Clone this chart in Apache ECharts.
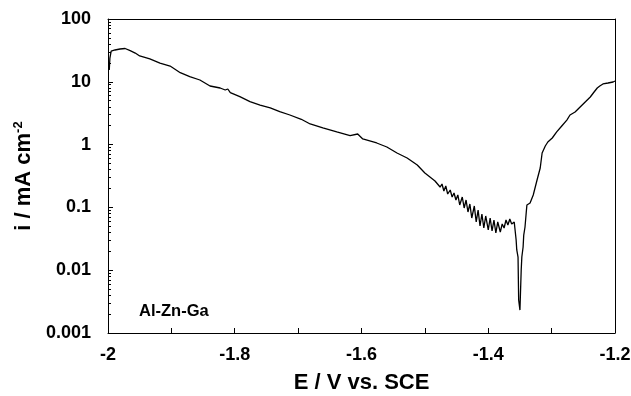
<!DOCTYPE html>
<html>
<head>
<meta charset="utf-8">
<script src="https://cdn.jsdelivr.net/npm/echarts@6/dist/echarts.min.js"></script>
<style>html,body{margin:0;padding:0;background:#fff}#c{width:631px;height:396px}</style>
</head>
<body>
<div id="c"></div>
<script>
// Potential E (V vs. SCE)
const potential = [
-1.998,-1.997,-1.995,-1.989,-1.981,-1.973,-1.965,-1.957,-1.950,-1.934,-1.918,-1.902,-1.886,-1.871,-1.855,
-1.839,-1.823,-1.815,-1.811,-1.807,-1.792,-1.776,-1.760,-1.744,-1.729,-1.713,-1.695,-1.692,-1.681,-1.661,
-1.639,-1.618,-1.606,-1.598,-1.576,-1.560,-1.544,-1.528,-1.512,-1.500,-1.492,-1.484,-1.476,-1.473,-1.470,
-1.467,-1.464,-1.460,-1.457,-1.454,-1.451,-1.448,-1.445,-1.441,-1.438,-1.435,-1.432,-1.429,-1.426,-1.422,
-1.419,-1.416,-1.413,-1.410,-1.407,-1.404,-1.400,-1.397,-1.394,-1.391,-1.388,-1.385,-1.381,-1.378,-1.375,
-1.372,-1.369,-1.366,-1.363,-1.359,-1.358,-1.356,-1.355,-1.353,-1.352,-1.350,-1.348,-1.347,-1.345,-1.344,
-1.342,-1.340,-1.339,-1.334,-1.329,-1.323,-1.318,-1.315,-1.310,-1.306,-1.299,-1.292,-1.284,-1.276,-1.271,
-1.263,-1.255,-1.247,-1.239,-1.233,-1.228,-1.224,-1.219,-1.211,-1.203,-1.200
];
// Current density i (mA cm^-2)
const current = [
15.4,23.9,30.9,32.1,33.3,33.9,31.3,28.7,25.8,23.1,19.9,17.8,13.96,12.06,10.68,
8.57,7.97,7.40,7.68,6.71,5.79,4.82,4.27,3.83,3.34,2.96,2.53,2.65,2.13,1.84,
1.59,1.386,1.475,1.228,1.061,0.916,0.735,0.612,0.473,0.353,0.305,0.263,0.211,0.236,0.1825,
0.219,0.1635,0.1893,0.1464,0.1696,0.1312,0.1576,0.1092,0.1464,0.0978,0.1312,0.0845,0.1133,0.0678,0.1053,
0.0586,0.0909,0.0506,0.0785,0.0470,0.0730,0.0437,0.0678,0.0421,0.0630,0.0391,0.0586,0.0406,0.0544,0.0470,
0.0630,0.0525,0.0654,0.0544,0.0586,0.0470,0.0303,0.0210,0.0162,0.00335,0.00232,0.01007,0.0162,0.0234,0.0363,
0.0487,0.0845,0.1092,0.1175,0.1576,0.273,0.424,0.735,0.950,1.100,1.274,1.59,1.978,2.46,2.96,
3.30,3.97,4.77,5.73,6.88,7.97,8.57,9.23,9.57,9.93,10.3
];
const xTicks = ['-2','-1.8','-1.6','-1.4','-1.2'];
const yTickLabels = ['0.001','0.01','0.1','1','10','100'];
const sampleLabel = 'Al-Zn-Ga';

const FONT = 'Liberation Sans, Arial, sans-serif';
const chart = echarts.init(document.getElementById('c'), null, {renderer: 'canvas'});
const pts = potential.map((e, k) => [e, current[k]]);
const yFmt = v => { const s = yTickLabels.find(t => Math.abs(Math.log10(parseFloat(t)) - Math.log10(v)) < 1e-6); return s || ''; };

const frameAxis = {
  axisLine: {show: true, onZero: false, lineStyle: {color: '#000', width: 1}},
  axisTick: {show: false}, axisLabel: {show: false}, splitLine: {show: false}
};

chart.setOption({
  animation: false,
  backgroundColor: '#fff',
  grid: {left: 108, right: 16, top: 19, bottom: 63, containLabel: false, outerBoundsMode: 'none'},
  title: {
    text: sampleLabel, left: 134, top: 298,
    textStyle: {fontFamily: FONT, fontWeight: 'bold', fontSize: 16.5, color: '#000'}
  },
  xAxis: [{
    type: 'value', min: -2, max: -1.2, interval: 0.2,
    name: 'E / V vs. SCE', nameLocation: 'middle', nameGap: 39,
    nameTextStyle: {fontFamily: FONT, fontWeight: 'bold', fontSize: 22, color: '#000'},
    axisLine: {show: true, onZero: false, lineStyle: {color: '#000', width: 1}},
    axisTick: {show: true, inside: true, length: 5, lineStyle: {color: '#000', width: 1}},
    minorTick: {show: true, splitNumber: 2, length: 5, lineStyle: {color: '#000', width: 1}},
    splitLine: {show: false},
    axisLabel: {fontFamily: FONT, fontWeight: 'bold', fontSize: 18, color: '#000', margin: 13,
      formatter: v => { const s = xTicks.find(t => Math.abs(parseFloat(t) - v) < 1e-6); return s || ''; }}
  }, Object.assign({type: 'value', min: -2, max: -1.2, position: 'top'}, frameAxis)],
  yAxis: [{
    type: 'log', logBase: 10, min: 0.001, max: 100, position: 'left',
    name: '{a|i / mA cm}{s|-2}', nameLocation: 'middle', nameGap: 67, nameRotate: 90,
    nameTextStyle: {fontFamily: FONT, fontWeight: 'bold', fontSize: 22, color: '#000',
      rich: {a: {fontFamily: FONT, fontWeight: 'bold', fontSize: 22, color: '#000'},
             s: {fontFamily: FONT, fontWeight: 'bold', fontSize: 13, color: '#000', verticalAlign: 'top', padding: [0,0,12,0]}}},
    axisLine: {show: true, onZero: false, lineStyle: {color: '#000', width: 1}},
    axisTick: {show: true, inside: true, length: 5, lineStyle: {color: '#000', width: 1}},
    minorTick: {show: true, splitNumber: 9, length: 3, lineStyle: {color: '#000', width: 1}},
    splitLine: {show: false},
    axisLabel: {fontFamily: FONT, fontWeight: 'bold', fontSize: 18, color: '#000', margin: 17, formatter: yFmt}
  }, Object.assign({type: 'log', logBase: 10, min: 0.001, max: 100, position: 'right'}, frameAxis)],
  series: [{
    type: 'line', data: pts, showSymbol: false, symbol: 'none',
    lineStyle: {color: '#000', width: 1.3}, clip: true
  }]
});
</script>
</body>
</html>
